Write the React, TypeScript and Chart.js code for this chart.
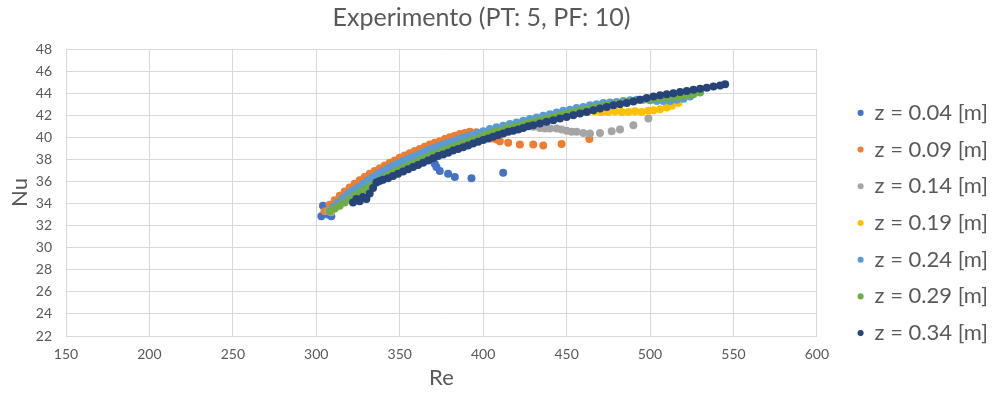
import React, { useEffect, useRef } from 'react';
import { Chart, registerables } from 'chart.js';

Chart.register(...registerables);

const FONT = 'Lato, "Open Sans", sans-serif';
const TEXT_COLOR = '#595959';
const GRID_COLOR = '#d9d9d9';

const TITLE = 'Experimento (PT: 5, PF: 10)';
const X_TITLE = 'Re';
const Y_TITLE = 'Nu';
const X_MIN = 150;
const X_MAX = 600;
const X_STEP = 50;
const Y_MIN = 22;
const Y_MAX = 48;
const Y_STEP = 2;

const seriesLabels = [
  'z = 0.04 [m]',
  'z = 0.09 [m]',
  'z = 0.14 [m]',
  'z = 0.19 [m]',
  'z = 0.24 [m]',
  'z = 0.29 [m]',
  'z = 0.34 [m]',
];
const seriesColors = ['#4472C4', '#ED7D31', '#A5A5A5', '#FFC000', '#5B9BD5', '#70AD47', '#264478'];

// z = 0.04 [m]
const re004 = [303, 304, 305, 307, 309, 311, 314, 317, 320, 323, 326, 329, 332, 335, 338, 341, 344, 347, 350, 353, 356, 359, 362, 365, 368, 370, 371, 372, 374, 379, 383, 393, 412];
const nu004 = [32.85, 33.8, 33.3, 33.0, 32.85, 33.7, 34.1, 34.5, 34.9, 35.2, 35.5, 35.8, 36.1, 36.35, 36.6, 36.85, 37.1, 37.3, 37.5, 37.7, 37.9, 38.05, 38.2, 38.35, 38.3, 37.9, 37.6, 37.3, 36.95, 36.7, 36.4, 36.3, 36.8];

// z = 0.09 [m]
const re009 = [305, 308, 311, 314, 317, 320, 323, 326, 329, 332, 335, 338, 341, 344, 347, 350, 353, 356, 359, 362, 365, 368, 371, 374, 377, 380, 383, 386, 389, 392, 396, 400, 405, 408, 410, 415, 422, 430, 436, 447, 463.6];
const nu009 = [33.3, 33.9, 34.3, 34.7, 35.1, 35.45, 35.8, 36.1, 36.4, 36.7, 36.95, 37.2, 37.45, 37.7, 37.9, 38.15, 38.35, 38.55, 38.75, 38.95, 39.15, 39.35, 39.5, 39.65, 39.85, 40.0, 40.15, 40.3, 40.4, 40.5, 40.45, 40.3, 39.9, 39.8, 39.65, 39.5, 39.35, 39.35, 39.25, 39.4, 39.85];

// z = 0.14 [m]
const re014 = [307, 309, 311, 314, 317, 320, 323, 326, 329, 332, 335, 338, 341, 344, 347, 350, 354, 358, 362, 366, 370, 374, 378, 382, 386, 390, 394, 398, 402, 406, 410, 414, 418, 422, 426, 430, 434, 437, 440, 444, 447, 450, 453, 456, 460, 464, 470, 477, 482, 490, 499];
const nu014 = [33.3, 33.2, 33.6, 34.0, 34.4, 34.75, 35.1, 35.4, 35.7, 36.0, 36.3, 36.55, 36.8, 37.05, 37.3, 37.5, 37.8, 38.1, 38.35, 38.6, 38.85, 39.05, 39.25, 39.45, 39.65, 39.85, 40.05, 40.2, 40.35, 40.5, 40.65, 40.8, 40.9, 41.0, 41.0, 40.95, 40.85, 40.8, 40.8, 40.8, 40.7, 40.6, 40.5, 40.5, 40.4, 40.35, 40.4, 40.55, 40.7, 41.1, 41.7];

// z = 0.19 [m]
const re019 = [309, 312, 315, 318, 321, 324, 327, 330, 333, 336, 339, 342, 345, 348, 351, 355, 359, 363, 367, 371, 375, 379, 383, 387, 391, 395, 399, 403, 407, 411, 415, 419, 423, 427, 431, 435, 439, 443, 447, 451, 455, 459, 463, 467, 471, 475, 479, 483, 487, 491, 495, 499, 502, 506, 510, 513, 517];
const nu019 = [33.4, 33.7, 34.1, 34.5, 34.85, 35.2, 35.5, 35.8, 36.1, 36.4, 36.65, 36.9, 37.15, 37.4, 37.6, 37.9, 38.15, 38.4, 38.65, 38.9, 39.1, 39.3, 39.5, 39.7, 39.9, 40.05, 40.2, 40.4, 40.55, 40.7, 40.85, 41.0, 41.15, 41.3, 41.45, 41.6, 41.7, 41.85, 42.0, 42.1, 42.2, 42.3, 42.35, 42.35, 42.3, 42.3, 42.35, 42.3, 42.3, 42.35, 42.3, 42.4, 42.45, 42.55, 42.7, 42.85, 43.1];

// z = 0.24 [m]
const re024 = [310, 313, 316, 319, 322, 325, 328, 331, 334, 337, 340, 343, 346, 349, 352, 355, 358, 361, 364, 367, 370, 373, 376, 379, 382, 385, 388, 391, 394, 397, 400, 404, 408, 412, 416, 420, 424, 428, 432, 436, 440, 444, 448, 452, 456, 460, 464, 468, 472, 476, 480, 484, 488, 492, 496, 500, 504, 508, 512, 516, 520, 524];
const nu024 = [33.7, 34.1, 34.5, 34.9, 35.2, 35.5, 35.8, 36.1, 36.4, 36.7, 36.95, 37.2, 37.45, 37.65, 37.85, 38.05, 38.25, 38.45, 38.65, 38.85, 39.0, 39.2, 39.35, 39.5, 39.65, 39.8, 39.95, 40.1, 40.25, 40.4, 40.55, 40.75, 40.9, 41.05, 41.2, 41.35, 41.5, 41.65, 41.8, 41.95, 42.1, 42.25, 42.4, 42.5, 42.65, 42.75, 42.9, 43.0, 43.1, 43.15, 43.2, 43.3, 43.35, 43.4, 43.4, 43.35, 43.3, 43.3, 43.3, 43.4, 43.5, 43.7];

// z = 0.29 [m]
const re029 = [308, 311, 314, 317, 320, 323, 326, 329, 332, 335, 338, 341, 344, 347, 350, 353, 356, 359, 362, 365, 368, 371, 374, 377, 380, 383, 386, 389, 392, 395, 398, 401, 404, 407, 410, 414, 418, 422, 426, 430, 434, 438, 442, 446, 450, 454, 458, 462, 466, 470, 474, 478, 482, 486, 490, 494, 498, 502, 506, 510, 514, 518, 522, 526, 530];
const nu029 = [33.3, 33.55, 33.8, 34.1, 34.4, 34.7, 35.0, 35.3, 35.6, 35.85, 36.1, 36.4, 36.65, 36.85, 37.05, 37.3, 37.5, 37.7, 37.9, 38.1, 38.3, 38.5, 38.65, 38.85, 39.0, 39.2, 39.35, 39.5, 39.65, 39.8, 39.95, 40.2, 40.35, 40.5, 40.6, 40.8, 40.95, 41.1, 41.25, 41.4, 41.55, 41.7, 41.85, 42.0, 42.15, 42.3, 42.45, 42.55, 42.65, 42.8, 42.9, 43.0, 43.1, 43.2, 43.3, 43.4, 43.45, 43.5, 43.55, 43.6, 43.65, 43.7, 43.8, 43.9, 44.05];

// z = 0.34 [m]
const re034 = [322, 324, 326, 328, 330, 332, 334, 336, 338, 340, 343, 346, 349, 352, 355, 358, 361, 364, 367, 370, 373, 376, 379, 382, 385, 388, 391, 394, 397, 400, 403, 406, 409, 412, 415, 418, 421, 424, 427, 430, 434, 438, 442, 446, 450, 454, 458, 462, 466, 470, 474, 478, 482, 486, 490, 494, 498, 502, 506, 510, 514, 518, 522, 526, 530, 534, 538, 542, 545];
const nu034 = [34.1, 34.4, 34.2, 34.6, 34.4, 34.9, 35.4, 35.9, 36.05, 36.15, 36.3, 36.5, 36.7, 36.9, 37.1, 37.3, 37.5, 37.7, 37.9, 38.1, 38.3, 38.45, 38.6, 38.8, 38.95, 39.1, 39.25, 39.45, 39.6, 39.75, 39.9, 40.05, 40.2, 40.35, 40.5, 40.6, 40.7, 40.85, 41.0, 41.1, 41.25, 41.4, 41.55, 41.7, 41.85, 42.0, 42.15, 42.3, 42.45, 42.6, 42.75, 42.9, 43.0, 43.1, 43.25, 43.4, 43.55, 43.7, 43.8, 43.9, 44.0, 44.1, 44.2, 44.3, 44.4, 44.5, 44.6, 44.7, 44.8];

const seriesRe = [re004, re009, re014, re019, re024, re029, re034];
const seriesNu = [nu004, nu009, nu014, nu019, nu024, nu029, nu034];

const layoutTweaks = {
  id: 'layoutTweaks',
  afterLayout(chart: any) {
    const t = chart.titleBlock;
    if (t) t.right = t.right - 30;
    const l = chart.legend;
    if (l) {
      l.top = l.top + 50;
      l.left = l.left + 5;
    }
  },
};

export default function App() {
  const ref = useRef<HTMLCanvasElement>(null);

  useEffect(() => {
    const canvas = ref.current;
    if (!canvas) return;
    const datasets = seriesRe.map((res, i) => ({
      label: seriesLabels[i],
      data: res.map((x, j) => ({ x, y: seriesNu[i][j] })),
      backgroundColor: seriesColors[i],
      borderColor: seriesColors[i],
      pointRadius: 4,
      pointHoverRadius: 4,
      pointBorderWidth: 0,
      showLine: false,
      order: seriesRe.length - i,
    }));

    const chart = new Chart(canvas, {
      type: 'scatter',
      data: { datasets },
      options: {
        animation: false,
        responsive: false,
        events: [],
        layout: { padding: 0 },
        plugins: {
          title: {
            display: true,
            text: TITLE,
            color: TEXT_COLOR,
            font: { family: FONT, size: 25, weight: 'normal' },
            padding: { top: 3, bottom: 16 },
          },
          legend: {
            position: 'right',
            labels: {
              sort: (a: any, b: any) => a.datasetIndex - b.datasetIndex,
              usePointStyle: true,
              pointStyle: 'circle',
              boxWidth: 6,
              boxHeight: 4.3,
              color: TEXT_COLOR,
              font: { family: FONT, size: 22 },
              padding: 14.7,
            },
          },
          tooltip: { enabled: false },
        },
        scales: {
          x: {
            type: 'linear',
            min: X_MIN,
            max: X_MAX,
            ticks: { stepSize: X_STEP, padding: 10, color: TEXT_COLOR, font: { family: FONT, size: 14 } },
            grid: { color: GRID_COLOR, drawTicks: false },
            border: { color: GRID_COLOR },
            title: {
              display: true,
              text: X_TITLE,
              color: TEXT_COLOR,
              font: { family: FONT, size: 22 },
              padding: { top: 0, bottom: 5 },
            },
            afterFit: (s: any) => {
              s.height = 60;
            },
          },
          y: {
            type: 'linear',
            min: Y_MIN,
            max: Y_MAX,
            ticks: { stepSize: Y_STEP, padding: 14, color: TEXT_COLOR, font: { family: FONT, size: 14 } },
            grid: { color: GRID_COLOR, drawTicks: false },
            border: { color: GRID_COLOR },
            title: {
              display: true,
              text: Y_TITLE,
              color: TEXT_COLOR,
              font: { family: FONT, size: 22 },
              padding: { top: 7, bottom: 0 },
            },
            afterFit: (s: any) => {
              s.width = 66;
            },
          },
          gap: {
            type: 'linear',
            position: 'right',
            display: true,
            grid: { display: false, drawTicks: false },
            border: { display: false },
            ticks: { display: false },
            afterFit: (s: any) => {
              s.width = 21;
            },
          },
        },
      },
      plugins: [layoutTweaks],
    });
    return () => chart.destroy();
  }, []);

  return (
    <canvas
      ref={ref}
      width={993}
      height={396}
      style={{ position: 'fixed', left: 0, top: 0, display: 'block', background: '#fff' }}
    />
  );
}
